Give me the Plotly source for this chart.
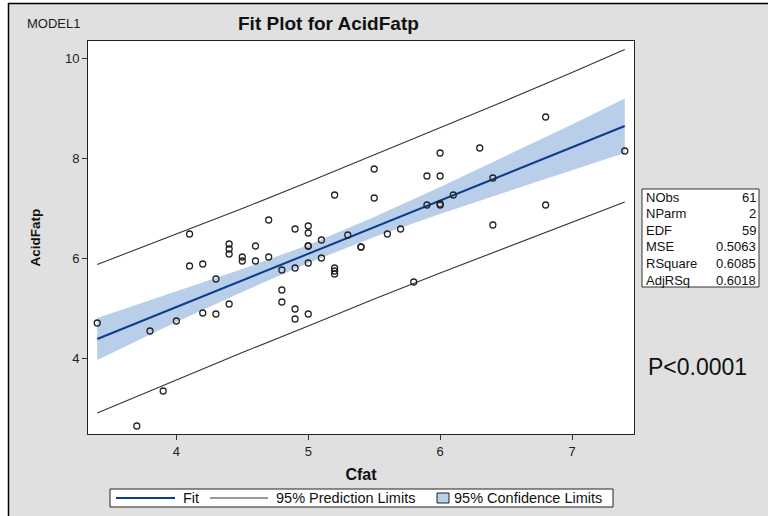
import plotly.graph_objects as go

# ---------------- data ----------------
cfat = [3.4, 3.7, 3.8, 3.9, 4.0, 4.1, 4.1, 4.2, 4.2, 4.3, 4.3, 4.4, 4.4, 4.4, 4.4,
        4.5, 4.5, 4.6, 4.6, 4.7, 4.7, 4.8, 4.8, 4.8, 4.9, 4.9, 4.9, 4.9,
        5.0, 5.0, 5.0, 5.0, 5.0, 5.0, 5.1, 5.1, 5.2, 5.2, 5.2, 5.2, 5.3, 5.4, 5.4,
        5.5, 5.5, 5.6, 5.7, 5.8, 5.9, 5.9, 6.0, 6.0, 6.0, 6.0, 6.1, 6.3, 6.4, 6.4,
        6.8, 6.8, 7.4]
acidfatp = [4.70, 2.64, 4.54, 3.34, 4.74, 6.48, 5.84, 5.88, 4.90, 5.58, 4.88, 6.28, 6.18, 6.08, 5.08,
            6.02, 5.94, 6.24, 5.94, 6.76, 6.02, 5.76, 5.36, 5.12, 6.58, 5.80, 4.98, 4.78,
            6.64, 6.50, 6.24, 6.24, 5.90, 4.88, 6.36, 6.00, 7.26, 5.80, 5.74, 5.68, 6.46, 6.22, 6.22,
            7.78, 7.20, 6.48, 6.58, 5.52, 7.64, 7.06, 8.10, 7.64, 7.08, 7.06, 7.26, 8.20, 7.60, 6.66,
            8.82, 7.06, 8.14]

grid_x = [3.4, 4.0, 4.5, 5.0, 5.5, 6.0, 6.5, 7.0, 7.4]
fit_y = [4.38, 5.02, 5.55, 6.08, 6.62, 7.15, 7.68, 8.21, 8.64]
cl_upper = [4.80, 5.33, 5.78, 6.26, 6.82, 7.42, 8.04, 8.67, 9.19]
cl_lower = [3.96, 4.72, 5.32, 5.90, 6.42, 6.88, 7.32, 7.75, 8.10]
pl_upper = [5.87, 6.48, 6.99, 7.52, 8.06, 8.60, 9.15, 9.71, 10.17]
pl_lower = [2.90, 3.56, 4.11, 4.64, 5.18, 5.70, 6.21, 6.71, 7.12]

x_ticks = [4, 5, 6, 7]
y_ticks = [4, 6, 8, 10]

stat_names = ["NObs", "NParm", "EDF", "MSE", "RSquare", "AdjRSq"]
stat_values = ["61", "2", "59", "0.5063", "0.6085", "0.6018"]

legend_labels = ["Fit", "95% Prediction Limits", "95% Confidence Limits"]

# ---------------- styling ----------------
FONT = "Liberation Sans, Arial, sans-serif"
FIT_COLOR = "#0B3D8C"
BAND_COLOR = "#B9CFE9"
PL_COLOR = "#333333"
BG = "#E0E0E0"
TXT = "#111111"

W, H = 768, 516
L, R, T, B = 88, 634, 41, 434


def px(x):
    return (x - L) / (R - L)


def py(y):
    return (B - y) / (B - T)


fig = go.Figure()

# confidence band
fig.add_trace(go.Scatter(x=grid_x, y=cl_upper, mode="lines", line=dict(width=0),
                         hoverinfo="skip", showlegend=False))
fig.add_trace(go.Scatter(x=grid_x, y=cl_lower, mode="lines", line=dict(width=0),
                         fill="tonexty", fillcolor=BAND_COLOR, name=legend_labels[2],
                         showlegend=False))
# prediction limits
fig.add_trace(go.Scatter(x=grid_x, y=pl_upper, mode="lines",
                         line=dict(color=PL_COLOR, width=1.1), name=legend_labels[1],
                         showlegend=False))
fig.add_trace(go.Scatter(x=grid_x, y=pl_lower, mode="lines",
                         line=dict(color=PL_COLOR, width=1.1), showlegend=False))
# fit
fig.add_trace(go.Scatter(x=grid_x, y=fit_y, mode="lines",
                         line=dict(color=FIT_COLOR, width=2), name=legend_labels[0],
                         showlegend=False))
# observations
fig.add_trace(go.Scatter(x=cfat, y=acidfatp, mode="markers",
                         marker=dict(symbol="circle-open", size=6, color="#222222",
                                     line=dict(width=1.3)),
                         showlegend=False))

shapes = []
annotations = []

# white page strips & frame border
shapes.append(dict(type="rect", xref="paper", yref="paper", x0=px(-5), x1=px(W + 5),
                   y0=py(3), y1=py(-5), fillcolor="white", line=dict(width=0), layer="below"))
shapes.append(dict(type="rect", xref="paper", yref="paper", x0=px(-5), x1=px(8),
                   y0=py(H + 5), y1=py(-5), fillcolor="white", line=dict(width=0), layer="below"))
shapes.append(dict(type="line", xref="paper", yref="paper", x0=px(8), x1=px(W + 5),
                   y0=py(3.5), y1=py(3.5), line=dict(color="black", width=1.5)))
shapes.append(dict(type="line", xref="paper", yref="paper", x0=px(8.5), x1=px(8.5),
                   y0=py(3), y1=py(H + 5), line=dict(color="black", width=1.5)))

# header texts
annotations.append(dict(text="MODEL1", xref="paper", yref="paper", x=px(25), y=py(24),
                        xanchor="left", yanchor="middle", showarrow=False,
                        font=dict(family=FONT, size=13, color="#222")))
annotations.append(dict(text="<b>Fit Plot for AcidFatp</b>", xref="paper", yref="paper",
                        x=px(328), y=py(24), xanchor="center", yanchor="middle",
                        showarrow=False, font=dict(family=FONT, size=19, color=TXT)))

# statistics box
box_x0, box_x1, box_y0, box_y1 = 642, 759, 189, 287
shapes.append(dict(type="rect", xref="paper", yref="paper", x0=px(box_x0), x1=px(box_x1),
                   y0=py(box_y1), y1=py(box_y0), fillcolor="white",
                   line=dict(color="#333", width=1)))
for i, (n, v) in enumerate(zip(stat_names, stat_values)):
    yc = 197 + i * 16.6
    annotations.append(dict(text=n, xref="paper", yref="paper", x=px(644), y=py(yc),
                            xanchor="left", yanchor="middle", showarrow=False,
                            font=dict(family=FONT, size=13, color=TXT)))
    annotations.append(dict(text=v, xref="paper", yref="paper", x=px(758), y=py(yc),
                            xanchor="right", yanchor="middle", showarrow=False,
                            font=dict(family=FONT, size=13, color=TXT)))

annotations.append(dict(text="P<0.0001", xref="paper", yref="paper", x=px(646), y=py(367),
                        xanchor="left", yanchor="middle", showarrow=False,
                        font=dict(family=FONT, size=23, color=TXT)))

# legend (drawn as a boxed key)
lg_x0, lg_x1, lg_y0, lg_y1 = 110, 613, 489, 507
ly = (lg_y0 + lg_y1) / 2
shapes.append(dict(type="rect", xref="paper", yref="paper", x0=px(lg_x0), x1=px(lg_x1),
                   y0=py(lg_y1), y1=py(lg_y0), fillcolor="white",
                   line=dict(color="#222", width=1)))
shapes.append(dict(type="line", xref="paper", yref="paper", x0=px(116), x1=px(175),
                   y0=py(ly), y1=py(ly), line=dict(color=FIT_COLOR, width=2)))
annotations.append(dict(text=legend_labels[0], xref="paper", yref="paper", x=px(181), y=py(ly),
                        xanchor="left", yanchor="middle", showarrow=False,
                        font=dict(family=FONT, size=14.5, color=TXT)))
shapes.append(dict(type="line", xref="paper", yref="paper", x0=px(210), x1=px(268),
                   y0=py(ly), y1=py(ly), line=dict(color=PL_COLOR, width=1.1)))
annotations.append(dict(text=legend_labels[1], xref="paper", yref="paper", x=px(274), y=py(ly),
                        xanchor="left", yanchor="middle", showarrow=False,
                        font=dict(family=FONT, size=14.5, color=TXT)))
shapes.append(dict(type="rect", xref="paper", yref="paper", x0=px(437), x1=px(449),
                   y0=py(ly + 5), y1=py(ly - 5), fillcolor=BAND_COLOR,
                   line=dict(color="#222", width=1)))
annotations.append(dict(text=legend_labels[2], xref="paper", yref="paper", x=px(452), y=py(ly),
                        xanchor="left", yanchor="middle", showarrow=False,
                        font=dict(family=FONT, size=14.5, color=TXT)))

fig.update_layout(
    width=W, height=H,
    margin=dict(l=L, r=W - R, t=T, b=H - B, pad=0),
    paper_bgcolor=BG, plot_bgcolor="white",
    showlegend=False,
    font=dict(family=FONT, size=13, color=TXT),
    shapes=shapes, annotations=annotations,
    xaxis=dict(range=[3.33, 7.47], tickvals=x_ticks, ticks="outside", ticklen=5,
               tickcolor="#333", showgrid=False, zeroline=False, showline=True,
               linecolor="#222", linewidth=1, mirror=True,
               tickfont=dict(family=FONT, size=13, color="#222"),
               title=dict(text="<b>Cfat</b>", font=dict(family=FONT, size=16, color=TXT),
                          standoff=11)),
    yaxis=dict(range=[2.48, 10.34], tickvals=y_ticks, ticks="outside", ticklen=5,
               tickcolor="#333", showgrid=False, zeroline=False, showline=True,
               linecolor="#222", linewidth=1, mirror=True,
               tickfont=dict(family=FONT, size=13, color="#222"),
               title=dict(text="<b>AcidFatp</b>", font=dict(family=FONT, size=13.5, color=TXT),
                          standoff=21)),
)

fig.write_html("out.html", config={"displayModeBar": False},
               post_script="document.body.style.margin='0';")
